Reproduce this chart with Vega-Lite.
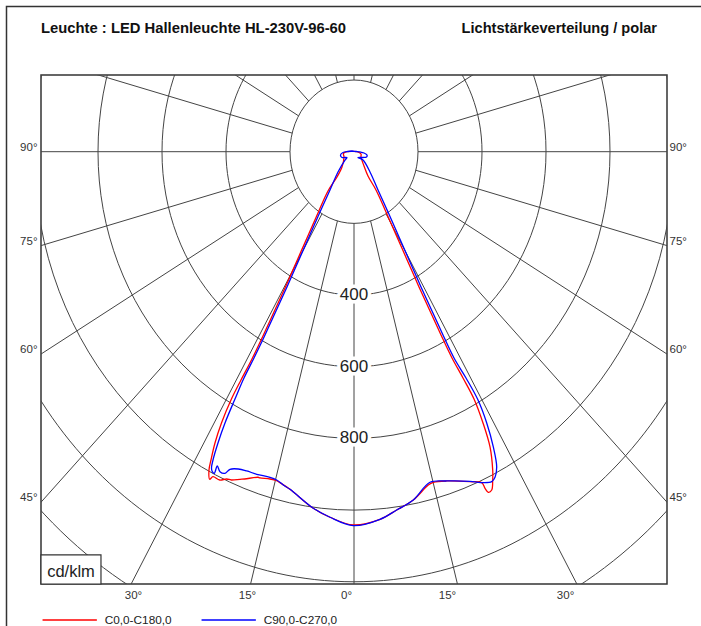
{
  "$schema": "https://vega.github.io/schema/vega-lite/v6.json",
  "width": 626,
  "height": 509,
  "autosize": {"type": "none"},
  "padding": {"left": 41, "top": 75, "right": 34, "bottom": 42},
  "background": "white",
  "config": {
    "view": {"stroke": "#333", "strokeWidth": 1.5},
    "font": "Liberation Sans",
    "axis": {"grid": false, "domain": false, "ticks": false, "labelFont": "Liberation Sans", "labelFontSize": 11.5, "labelColor": "#333"}
  },
  "resolve": {"axis": {"x": "independent", "y": "independent"}},
  "datasets": {
    "one": [{}],
    "rings": [{"r": 200}, {"r": 400}, {"r": 600}, {"r": 800}, {"r": 1000}, {"r": 1200}, {"r": 1400}],
    "radials": [
      {"a": 0, "x1": 0, "y1": -200, "x2": 0, "y2": -2000},
      {"a": 15, "x1": 51.8, "y1": -193.2, "x2": 517.6, "y2": -1931.9},
      {"a": 30, "x1": 100, "y1": -173.2, "x2": 1000, "y2": -1732.1},
      {"a": 45, "x1": 141.4, "y1": -141.4, "x2": 1414.2, "y2": -1414.2},
      {"a": 60, "x1": 173.2, "y1": -100, "x2": 1732.1, "y2": -1000},
      {"a": 75, "x1": 193.2, "y1": -51.8, "x2": 1931.9, "y2": -517.6},
      {"a": 90, "x1": 200, "y1": 0, "x2": 2000, "y2": 0},
      {"a": 105, "x1": 193.2, "y1": 51.8, "x2": 1931.9, "y2": 517.6},
      {"a": 120, "x1": 173.2, "y1": 100, "x2": 1732.1, "y2": 1000},
      {"a": 135, "x1": 141.4, "y1": 141.4, "x2": 1414.2, "y2": 1414.2},
      {"a": 150, "x1": 100, "y1": 173.2, "x2": 1000, "y2": 1732.1},
      {"a": 165, "x1": 51.8, "y1": 193.2, "x2": 517.6, "y2": 1931.9},
      {"a": 180, "x1": 0, "y1": 200, "x2": 0, "y2": 2000},
      {"a": -15, "x1": -51.8, "y1": -193.2, "x2": -517.6, "y2": -1931.9},
      {"a": -30, "x1": -100, "y1": -173.2, "x2": -1000, "y2": -1732.1},
      {"a": -45, "x1": -141.4, "y1": -141.4, "x2": -1414.2, "y2": -1414.2},
      {"a": -60, "x1": -173.2, "y1": -100, "x2": -1732.1, "y2": -1000},
      {"a": -75, "x1": -193.2, "y1": -51.8, "x2": -1931.9, "y2": -517.6},
      {"a": -90, "x1": -200, "y1": 0, "x2": -2000, "y2": 0},
      {"a": -105, "x1": -193.2, "y1": 51.8, "x2": -1931.9, "y2": 517.6},
      {"a": -120, "x1": -173.2, "y1": 100, "x2": -1732.1, "y2": 1000},
      {"a": -135, "x1": -141.4, "y1": 141.4, "x2": -1414.2, "y2": 1414.2},
      {"a": -150, "x1": -100, "y1": 173.2, "x2": -1000, "y2": 1732.1},
      {"a": -165, "x1": -51.8, "y1": 193.2, "x2": -517.6, "y2": 1931.9}
    ],
    "ringlabels": [{"label": "400", "y": -400}, {"label": "600", "y": -600}, {"label": "800", "y": -800}],
    "curves": [
      {"series": "C0,0-C180,0", "i": 1, "x": -6.25, "y": 1.1},
      {"series": "C0,0-C180,0", "i": 2, "x": -21.9, "y": 0},
      {"series": "C0,0-C180,0", "i": 3, "x": -32.8, "y": -5.0},
      {"series": "C0,0-C180,0", "i": 4, "x": -31.25, "y": -14.8},
      {"series": "C0,0-C180,0", "i": 5, "x": -37.5, "y": -42.7},
      {"series": "C0,0-C180,0", "i": 6, "x": -53.1, "y": -70.6},
      {"series": "C0,0-C180,0", "i": 7, "x": -81.25, "y": -109.6},
      {"series": "C0,0-C180,0", "i": 8, "x": -112.5, "y": -171.0},
      {"series": "C0,0-C180,0", "i": 9, "x": -146.9, "y": -240.8},
      {"series": "C0,0-C180,0", "i": 10, "x": -181.25, "y": -310.5},
      {"series": "C0,0-C180,0", "i": 11, "x": -215.6, "y": -380.3},
      {"series": "C0,0-C180,0", "i": 12, "x": -250, "y": -447.2},
      {"series": "C0,0-C180,0", "i": 13, "x": -284.4, "y": -514.2},
      {"series": "C0,0-C180,0", "i": 14, "x": -318.75, "y": -578.4},
      {"series": "C0,0-C180,0", "i": 15, "x": -353.1, "y": -637.0},
      {"series": "C0,0-C180,0", "i": 16, "x": -384.4, "y": -692.8},
      {"series": "C0,0-C180,0", "i": 17, "x": -414.1, "y": -756.9},
      {"series": "C0,0-C180,0", "i": 18, "x": -434.4, "y": -812.7},
      {"series": "C0,0-C180,0", "i": 19, "x": -446.9, "y": -860.2},
      {"series": "C0,0-C180,0", "i": 20, "x": -453.1, "y": -888.1},
      {"series": "C0,0-C180,0", "i": 21, "x": -450.9, "y": -914.0},
      {"series": "C0,0-C180,0", "i": 22, "x": -440.6, "y": -906.8},
      {"series": "C0,0-C180,0", "i": 23, "x": -419.7, "y": -916.0},
      {"series": "C0,0-C180,0", "i": 24, "x": -397.8, "y": -913.2},
      {"series": "C0,0-C180,0", "i": 25, "x": -383.4, "y": -916.0},
      {"series": "C0,0-C180,0", "i": 26, "x": -356.25, "y": -914.0},
      {"series": "C0,0-C180,0", "i": 27, "x": -341.6, "y": -913.2},
      {"series": "C0,0-C180,0", "i": 28, "x": -300, "y": -908.4},
      {"series": "C0,0-C180,0", "i": 29, "x": -293.75, "y": -910.4},
      {"series": "C0,0-C180,0", "i": 30, "x": -262.5, "y": -913.2},
      {"series": "C0,0-C180,0", "i": 31, "x": -241.6, "y": -917.9},
      {"series": "C0,0-C180,0", "i": 32, "x": -231.25, "y": -923.5},
      {"series": "C0,0-C180,0", "i": 33, "x": -200, "y": -941.9},
      {"series": "C0,0-C180,0", "i": 34, "x": -127.2, "y": -994.9},
      {"series": "C0,0-C180,0", "i": 35, "x": -75, "y": -1020.0},
      {"series": "C0,0-C180,0", "i": 36, "x": -2.2, "y": -1041.5},
      {"series": "C0,0-C180,0", "i": 37, "x": 81.25, "y": -1025.6},
      {"series": "C0,0-C180,0", "i": 38, "x": 133.4, "y": -999.7},
      {"series": "C0,0-C180,0", "i": 39, "x": 185.3, "y": -971.8},
      {"series": "C0,0-C180,0", "i": 40, "x": 232.2, "y": -929.9},
      {"series": "C0,0-C180,0", "i": 41, "x": 247.8, "y": -922.4},
      {"series": "C0,0-C180,0", "i": 42, "x": 289.7, "y": -918.7},
      {"series": "C0,0-C180,0", "i": 43, "x": 362.5, "y": -920.7},
      {"series": "C0,0-C180,0", "i": 44, "x": 399.1, "y": -923.5},
      {"series": "C0,0-C180,0", "i": 45, "x": 409.4, "y": -939.1},
      {"series": "C0,0-C180,0", "i": 46, "x": 419.7, "y": -950.3},
      {"series": "C0,0-C180,0", "i": 47, "x": 430.3, "y": -943.9},
      {"series": "C0,0-C180,0", "i": 48, "x": 433.4, "y": -916.0},
      {"series": "C0,0-C180,0", "i": 49, "x": 433.4, "y": -888.1},
      {"series": "C0,0-C180,0", "i": 50, "x": 425, "y": -823.9},
      {"series": "C0,0-C180,0", "i": 51, "x": 403.1, "y": -756.9},
      {"series": "C0,0-C180,0", "i": 52, "x": 375, "y": -690.0},
      {"series": "C0,0-C180,0", "i": 53, "x": 340.6, "y": -631.4},
      {"series": "C0,0-C180,0", "i": 54, "x": 306.25, "y": -575.6},
      {"series": "C0,0-C180,0", "i": 55, "x": 271.9, "y": -511.4},
      {"series": "C0,0-C180,0", "i": 56, "x": 237.5, "y": -444.5},
      {"series": "C0,0-C180,0", "i": 57, "x": 203.1, "y": -377.5},
      {"series": "C0,0-C180,0", "i": 58, "x": 168.75, "y": -307.7},
      {"series": "C0,0-C180,0", "i": 59, "x": 134.4, "y": -238.0},
      {"series": "C0,0-C180,0", "i": 60, "x": 100, "y": -168.2},
      {"series": "C0,0-C180,0", "i": 61, "x": 68.75, "y": -106.9},
      {"series": "C0,0-C180,0", "i": 62, "x": 43.75, "y": -67.8},
      {"series": "C0,0-C180,0", "i": 63, "x": 31.25, "y": -39.9},
      {"series": "C0,0-C180,0", "i": 64, "x": 21.9, "y": -14.8},
      {"series": "C0,0-C180,0", "i": 65, "x": 21.9, "y": -6.4},
      {"series": "C0,0-C180,0", "i": 66, "x": 9.4, "y": 0},
      {"series": "C0,0-C180,0", "i": 67, "x": -6.25, "y": 1.1},
      {"series": "C90,0-C270,0", "i": 1, "x": -6.25, "y": 1.95},
      {"series": "C90,0-C270,0", "i": 2, "x": -18.75, "y": 0.56},
      {"series": "C90,0-C270,0", "i": 3, "x": -34.4, "y": -2.23},
      {"series": "C90,0-C270,0", "i": 4, "x": -42.2, "y": -9.2},
      {"series": "C90,0-C270,0", "i": 5, "x": -37.5, "y": -16.2},
      {"series": "C90,0-C270,0", "i": 6, "x": -21.9, "y": -16.2},
      {"series": "C90,0-C270,0", "i": 7, "x": -28.1, "y": -23.2},
      {"series": "C90,0-C270,0", "i": 8, "x": -50, "y": -56.6},
      {"series": "C90,0-C270,0", "i": 9, "x": -75, "y": -106.9},
      {"series": "C90,0-C270,0", "i": 10, "x": -106.25, "y": -168.2},
      {"series": "C90,0-C270,0", "i": 11, "x": -140.6, "y": -238.0},
      {"series": "C90,0-C270,0", "i": 12, "x": -175, "y": -307.7},
      {"series": "C90,0-C270,0", "i": 13, "x": -209.4, "y": -377.5},
      {"series": "C90,0-C270,0", "i": 14, "x": -243.75, "y": -444.5},
      {"series": "C90,0-C270,0", "i": 15, "x": -278.1, "y": -511.4},
      {"series": "C90,0-C270,0", "i": 16, "x": -312.5, "y": -575.6},
      {"series": "C90,0-C270,0", "i": 17, "x": -343.75, "y": -631.4},
      {"series": "C90,0-C270,0", "i": 18, "x": -371.9, "y": -690.0},
      {"series": "C90,0-C270,0", "i": 19, "x": -403.1, "y": -756.9},
      {"series": "C90,0-C270,0", "i": 20, "x": -425, "y": -812.7},
      {"series": "C90,0-C270,0", "i": 21, "x": -440.6, "y": -860.2},
      {"series": "C90,0-C270,0", "i": 22, "x": -445.3, "y": -882.5},
      {"series": "C90,0-C270,0", "i": 23, "x": -442.8, "y": -892.8},
      {"series": "C90,0-C270,0", "i": 24, "x": -436.6, "y": -897.3},
      {"series": "C90,0-C270,0", "i": 25, "x": -427.2, "y": -876.9},
      {"series": "C90,0-C270,0", "i": 26, "x": -418.75, "y": -892.8},
      {"series": "C90,0-C270,0", "i": 27, "x": -403.1, "y": -897.3},
      {"series": "C90,0-C270,0", "i": 28, "x": -387.5, "y": -886.1},
      {"series": "C90,0-C270,0", "i": 29, "x": -361.6, "y": -885.3},
      {"series": "C90,0-C270,0", "i": 30, "x": -335.3, "y": -890.8},
      {"series": "C90,0-C270,0", "i": 31, "x": -304.1, "y": -900.0},
      {"series": "C90,0-C270,0", "i": 32, "x": -262.5, "y": -908.4},
      {"series": "C90,0-C270,0", "i": 33, "x": -241.6, "y": -916.0},
      {"series": "C90,0-C270,0", "i": 34, "x": -220.9, "y": -929.9},
      {"series": "C90,0-C270,0", "i": 35, "x": -200, "y": -941.9},
      {"series": "C90,0-C270,0", "i": 36, "x": -127.2, "y": -994.9},
      {"series": "C90,0-C270,0", "i": 37, "x": -75, "y": -1020.0},
      {"series": "C90,0-C270,0", "i": 38, "x": -2.2, "y": -1043.5},
      {"series": "C90,0-C270,0", "i": 39, "x": 81.25, "y": -1025.6},
      {"series": "C90,0-C270,0", "i": 40, "x": 133.4, "y": -999.7},
      {"series": "C90,0-C270,0", "i": 41, "x": 185.3, "y": -971.8},
      {"series": "C90,0-C270,0", "i": 42, "x": 237.5, "y": -922.4},
      {"series": "C90,0-C270,0", "i": 43, "x": 289.7, "y": -918.7},
      {"series": "C90,0-C270,0", "i": 44, "x": 362.5, "y": -919.6},
      {"series": "C90,0-C270,0", "i": 45, "x": 404.1, "y": -923.5},
      {"series": "C90,0-C270,0", "i": 46, "x": 430.3, "y": -920.7},
      {"series": "C90,0-C270,0", "i": 47, "x": 440.6, "y": -908.4},
      {"series": "C90,0-C270,0", "i": 48, "x": 445.9, "y": -879.7},
      {"series": "C90,0-C270,0", "i": 49, "x": 435.3, "y": -823.9},
      {"series": "C90,0-C270,0", "i": 50, "x": 414.7, "y": -756.9},
      {"series": "C90,0-C270,0", "i": 51, "x": 387.5, "y": -692.8},
      {"series": "C90,0-C270,0", "i": 52, "x": 350, "y": -631.4},
      {"series": "C90,0-C270,0", "i": 53, "x": 312.5, "y": -575.6},
      {"series": "C90,0-C270,0", "i": 54, "x": 278.1, "y": -511.4},
      {"series": "C90,0-C270,0", "i": 55, "x": 243.75, "y": -444.5},
      {"series": "C90,0-C270,0", "i": 56, "x": 209.4, "y": -377.5},
      {"series": "C90,0-C270,0", "i": 57, "x": 175, "y": -307.7},
      {"series": "C90,0-C270,0", "i": 58, "x": 140.6, "y": -238.0},
      {"series": "C90,0-C270,0", "i": 59, "x": 106.25, "y": -168.2},
      {"series": "C90,0-C270,0", "i": 60, "x": 75, "y": -106.9},
      {"series": "C90,0-C270,0", "i": 61, "x": 50, "y": -56.6},
      {"series": "C90,0-C270,0", "i": 62, "x": 28.1, "y": -23.2},
      {"series": "C90,0-C270,0", "i": 63, "x": 12.5, "y": -16.2},
      {"series": "C90,0-C270,0", "i": 64, "x": 28.1, "y": -16.2},
      {"series": "C90,0-C270,0", "i": 65, "x": 39.1, "y": -14.8},
      {"series": "C90,0-C270,0", "i": 66, "x": 40.6, "y": -9.2},
      {"series": "C90,0-C270,0", "i": 67, "x": 31.25, "y": -3.6},
      {"series": "C90,0-C270,0", "i": 68, "x": 18.75, "y": -0.8},
      {"series": "C90,0-C270,0", "i": 69, "x": 6.25, "y": 0.56},
      {"series": "C90,0-C270,0", "i": 70, "x": -6.25, "y": 1.95}
    ]
  },
  "layer": [
    {
      "data": {"name": "radials"},
      "mark": {"type": "rule", "color": "#444", "strokeWidth": 1, "clip": true},
      "encoding": {
        "x": {"field": "x1", "type": "quantitative",
          "scale": {"domain": [-978, 978], "nice": false, "zero": false},
          "axis": {"orient": "bottom", "title": null, "values": [-690.6, -334.4, -25, 290.6, 659.4],
            "labelExpr": "datum.value < -500 ? '30°' : datum.value < -200 ? '15°' : datum.value < 100 ? '0°' : datum.value < 500 ? '15°' : '30°'",
            "labelPadding": 5.5, "labelFlush": false, "labelOverlap": false, "labelBound": false}},
        "x2": {"field": "x2"},
        "y": {"field": "y1", "type": "quantitative",
          "scale": {"domain": [-1206.2, 214], "nice": false, "zero": false},
          "axis": {"orient": "left", "title": null, "values": [0, -262, -564.7, -978],
            "labelExpr": "datum.value > -100 ? '90°' : datum.value > -400 ? '75°' : datum.value > -800 ? '60°' : '45°'",
            "labelOffset": -4.5, "labelPadding": 4, "labelOverlap": false}},
        "y2": {"field": "y2"}
      }
    },
    {
      "data": {"name": "rings"},
      "mark": {"type": "point", "shape": "M -1 0 A 1 1.12 0 1 1 1 0 A 1 1.12 0 1 1 -1 0 Z", "filled": false, "color": "#444", "strokeWidth": 1, "opacity": 1, "clip": true},
      "encoding": {
        "x": {"datum": 0, "type": "quantitative", "axis": null},
        "y": {"datum": 0, "type": "quantitative", "axis": null},
        "size": {"field": "r", "type": "quantitative", "scale": {"type": "pow", "exponent": 2, "domain": [0, 1400], "range": [0, 802816]}, "legend": null}
      }
    },
    {
      "data": {"name": "ringlabels"},
      "mark": {"type": "text", "font": "Liberation Sans", "fontSize": 17, "stroke": "white", "strokeWidth": 7, "fill": "white", "align": "center", "baseline": "middle"},
      "encoding": {
        "x": {"datum": 0, "type": "quantitative", "axis": null},
        "y": {"field": "y", "type": "quantitative",
          "axis": {"orient": "right", "title": null, "values": [0, -262, -564.7, -978],
            "labelExpr": "datum.value > -100 ? '90°' : datum.value > -400 ? '75°' : datum.value > -800 ? '60°' : '45°'",
            "labelOffset": -4.5, "labelPadding": 2, "labelOverlap": false}},
        "text": {"field": "label"}
      }
    },
    {
      "data": {"name": "ringlabels"},
      "mark": {"type": "text", "font": "Liberation Sans", "fontSize": 17, "color": "#222", "align": "center", "baseline": "middle"},
      "encoding": {
        "x": {"datum": 0, "type": "quantitative", "axis": null},
        "y": {"field": "y", "type": "quantitative", "axis": null},
        "text": {"field": "label"}
      }
    },
    {
      "data": {"name": "curves"},
      "mark": {"type": "line", "strokeWidth": 1.3, "clip": true, "interpolate": "catmull-rom"},
      "encoding": {
        "x": {"field": "x", "type": "quantitative", "axis": null},
        "y": {"field": "y", "type": "quantitative", "axis": null},
        "order": {"field": "i", "type": "quantitative"},
        "color": {"field": "series", "type": "nominal",
          "scale": {"domain": ["C0,0-C180,0", "C90,0-C270,0"], "range": ["#ff0000", "#0000ff"]},
          "legend": {"orient": "none", "legendX": 0.7, "legendY": 517, "direction": "horizontal", "title": null,
            "symbolType": "stroke", "symbolSize": 2950, "symbolStrokeWidth": 1.5, "labelFont": "Liberation Sans",
            "labelFontSize": 11.8, "labelColor": "#222", "labelOffset": 7, "columnPadding": 26, "padding": 0}}
      }
    },
    {
      "data": {"name": "one"},
      "mark": {"type": "rect", "fill": "white", "stroke": "#333", "strokeWidth": 1.2},
      "encoding": {
        "x": {"datum": -978, "type": "quantitative", "axis": null},
        "x2": {"datum": -790.6},
        "y": {"datum": -1206.2, "type": "quantitative", "axis": null},
        "y2": {"datum": -1125.2}
      }
    },
    {
      "data": {"name": "one"},
      "mark": {"type": "text", "text": "cd/klm", "font": "Liberation Sans", "fontSize": 16.5, "color": "#222", "align": "center", "baseline": "alphabetic"},
      "encoding": {
        "x": {"datum": -884.4, "type": "quantitative", "axis": null},
        "y": {"datum": -1185.8, "type": "quantitative", "axis": null}
      }
    },
    {
      "data": {"name": "one"},
      "mark": {"type": "rect", "filled": false, "stroke": "#333", "strokeWidth": 1.5, "clip": false},
      "encoding": {
        "x": {"datum": -1085.8, "type": "quantitative", "axis": null},
        "x2": {"datum": 1143.8},
        "y": {"datum": 405.1, "type": "quantitative", "axis": null},
        "y2": {"datum": -1362.4}
      }
    },
    {
      "data": {"name": "one"},
      "mark": {"type": "text", "text": "Leuchte : LED Hallenleuchte HL-230V-96-60", "font": "Liberation Sans", "fontSize": 14.8, "fontWeight": "bold", "color": "#111", "align": "left", "baseline": "alphabetic"},
      "encoding": {
        "x": {"datum": -978, "type": "quantitative", "axis": null},
        "y": {"datum": 331.2, "type": "quantitative", "axis": null}
      }
    },
    {
      "data": {"name": "one"},
      "mark": {"type": "text", "text": "Lichtstärkeverteilung / polar", "font": "Liberation Sans", "fontSize": 14.6, "fontWeight": "bold", "color": "#111", "align": "right", "baseline": "alphabetic"},
      "encoding": {
        "x": {"datum": 946.9, "type": "quantitative", "axis": null},
        "y": {"datum": 331.2, "type": "quantitative", "axis": null}
      }
    }
  ]
}
